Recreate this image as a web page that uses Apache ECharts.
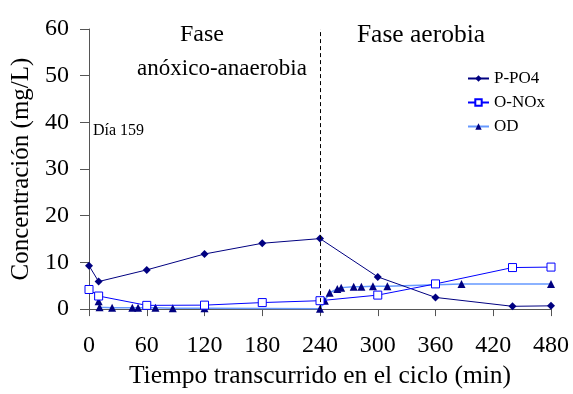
<!DOCTYPE html>
<html>
<head>
<meta charset="utf-8">
<script src="https://cdn.jsdelivr.net/npm/echarts@6/dist/echarts.min.js"></script>
<style>
html, body { margin: 0; padding: 0; background: #fff; }
#chart { width: 573px; height: 394px; }
</style>
</head>
<body>
<div id="chart"></div>
<script>
// tiempo (min), concentracion (mg/L)
var pTime = [0, 10, 60, 120, 180, 240, 300, 360, 440, 480];
var pPO4 = [9.3, 5.9, 8.4, 11.8, 14.1, 15.1, 6.9, 2.5, 0.6, 0.7];

var nTime = [0, 10, 60, 120, 180, 240, 300, 360, 440, 480];
var oNOx = [4.2, 2.8, 0.8, 0.85, 1.4, 1.8, 3.0, 5.4, 8.9, 9.0];

var odTime = [10, 11, 24, 45, 51, 69, 87, 120, 240, 245, 250, 258, 262, 275, 283, 295, 310, 387, 480];
var odVal = [1.7, 0.4, 0.3, 0.3, 0.3, 0.3, 0.2, 0.2, 0.1, 1.8, 3.5, 4.3, 4.6, 4.8, 4.8, 4.9, 4.9, 5.4, 5.4];

var phaseChange = 240;

function pairs(xs, ys) {
    var out = [];
    for (var i = 0; i < xs.length; i++) {
        out.push([xs[i], ys[i]]);
    }
    return out;
}

var font = 'Liberation Serif, Times New Roman, serif';
var chart = echarts.init(document.getElementById('chart'));

var option = {
    animation: false,
    textStyle: { fontFamily: font },
    grid: { left: 89, right: 22, top: 29, bottom: 82 },
    legend: {
        orient: 'vertical',
        left: 462,
        top: 65,
        itemGap: 7,
        itemWidth: 21,
        itemHeight: 8,
        textStyle: { fontFamily: font, fontSize: 17, color: '#000' },
        data: ['P-PO4', 'O-NOx', 'OD']
    },
    xAxis: {
        type: 'value',
        min: 0,
        max: 480,
        interval: 60,
        name: 'Tiempo transcurrido en el ciclo (min)',
        nameLocation: 'middle',
        nameGap: 47,
        nameTextStyle: { fontFamily: font, fontSize: 25.5, color: '#000' },
        axisLine: { show: true, onZero: false, lineStyle: { color: '#555', width: 1 } },
        axisTick: { show: true, inside: false, length: 7, lineStyle: { color: '#555' } },
        axisLabel: { margin: 25, fontFamily: font, fontSize: 24, color: '#000' },
        splitLine: { show: false }
    },
    yAxis: {
        type: 'value',
        min: 0,
        max: 60,
        interval: 10,
        name: 'Concentración (mg/L)',
        nameLocation: 'middle',
        nameGap: 54,
        nameTextStyle: { fontFamily: font, fontSize: 25, color: '#000' },
        axisLine: { show: true, lineStyle: { color: '#555', width: 1 } },
        axisTick: { show: true, inside: false, length: 9, lineStyle: { color: '#555' } },
        axisLabel: { margin: 20, fontFamily: font, fontSize: 24, color: '#000' },
        splitLine: { show: false }
    },
    graphic: [
        { type: 'text', x: 202, y: 35, style: { text: 'Fase', font: '24px ' + font, fill: '#000', align: 'center', verticalAlign: 'middle' } },
        { type: 'text', x: 222, y: 69, style: { text: 'anóxico-anaerobia', font: '23px ' + font, fill: '#000', align: 'center', verticalAlign: 'middle' } },
        { type: 'text', x: 421, y: 35, style: { text: 'Fase aerobia', font: '25.5px ' + font, fill: '#000', align: 'center', verticalAlign: 'middle' } },
        { type: 'text', x: 93, y: 131, style: { text: 'Día 159', font: '16px ' + font, fill: '#000', align: 'left', verticalAlign: 'middle' } }
    ],
    series: [
        {
            name: 'P-PO4',
            type: 'line',
            data: pairs(pTime, pPO4),
            symbol: 'diamond',
            symbolSize: 8,
            itemStyle: { color: '#000080' },
            lineStyle: { color: '#000080', width: 1 },
            z: 3,
            markLine: {
                silent: true,
                symbol: 'none',
                label: { show: false },
                lineStyle: { color: '#000', type: [4, 3], width: 1 },
                data: [{ xAxis: phaseChange }]
            }
        },
        {
            name: 'O-NOx',
            type: 'line',
            data: pairs(nTime, oNOx),
            symbol: 'rect',
            symbolSize: 8,
            itemStyle: { color: '#fff', borderColor: '#0000ff', borderWidth: 1 },
            lineStyle: { color: '#0000ff', width: 1 },
            z: 4
        },
        {
            name: 'OD',
            type: 'line',
            data: pairs(odTime, odVal),
            symbol: 'triangle',
            symbolSize: 8,
            itemStyle: { color: '#000080' },
            lineStyle: { color: '#6699ff', width: 1.5 },
            z: 2
        }
    ]
};
chart.setOption(option);
</script>
</body>
</html>
